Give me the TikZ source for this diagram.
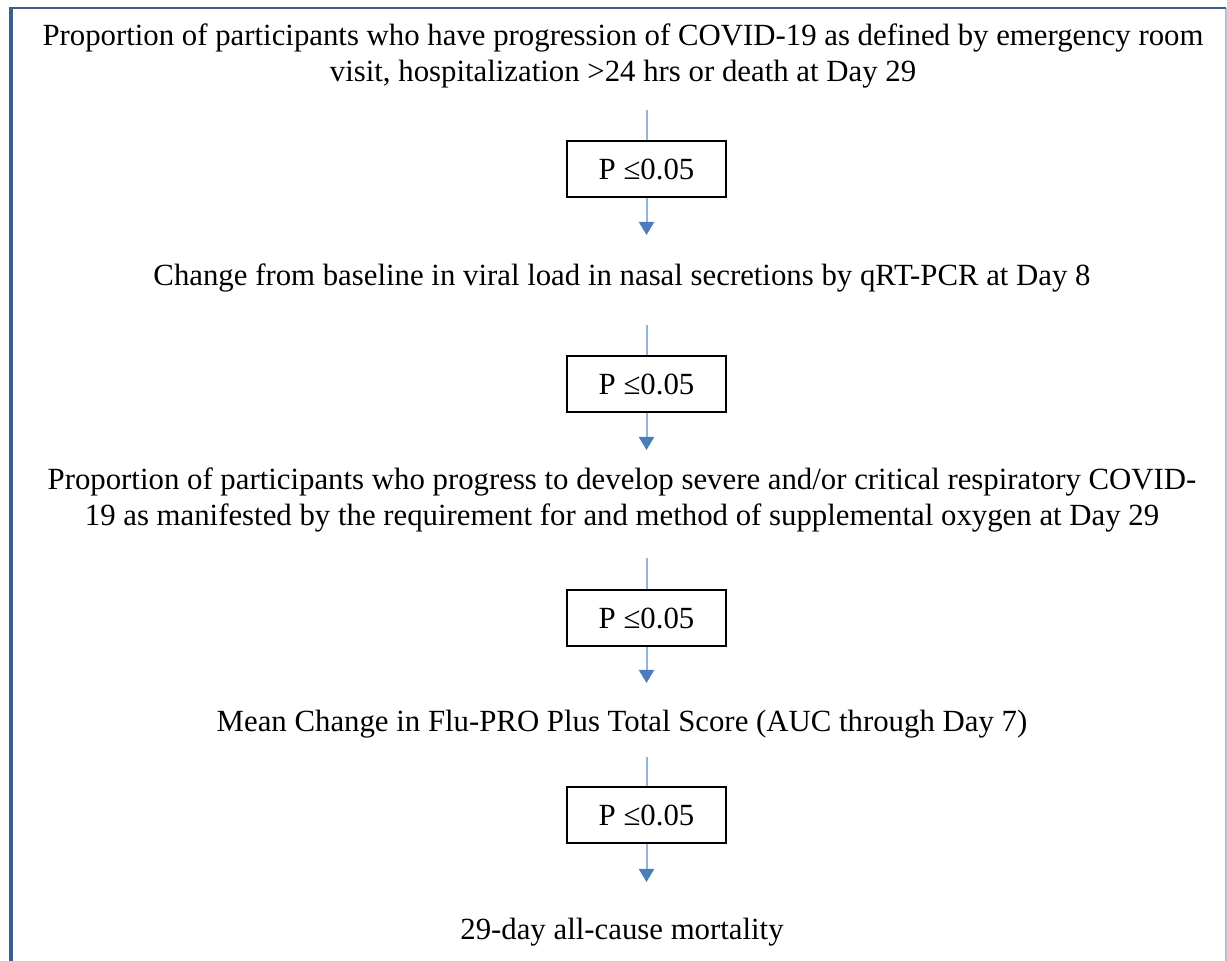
\documentclass[tikz,border=0pt]{standalone}
\usepackage{fontspec}
\setmainfont{Liberation Serif}
\usetikzlibrary{arrows.meta}

\definecolor{frameblue}{HTML}{3B5F8E}
\definecolor{framegrey}{HTML}{B8C2CE}
\definecolor{linkblue}{HTML}{92B5DE}
\definecolor{tipblue}{HTML}{4A7EBB}

\begin{document}
\begin{tikzpicture}[x=0.5pt, y=-0.5pt,
    step text/.style = {align=center, font=\fontsize{15.4}{18}\selectfont},
    pbox/.style = {draw, line width=0.8pt, minimum width=79.5pt, minimum height=28pt,
                   inner sep=0pt, font=\fontsize{15.4}{18}\selectfont},
    link/.style = {draw=linkblue, line width=1pt},
    flow/.style = {link, -{Triangle[width=7.5pt, length=6.5pt, color=tipblue]}}]
    \useasboundingbox (0,0) rectangle (1227,961);

    % frame
    \draw[framegrey, line width=0.6pt] (1226,8) -- (1226,961);
    \draw[frameblue, line width=1.2pt] (11,8) -- (1226,8);
    \draw[frameblue, line width=2pt] (11,7) -- (11,961);

    % outcomes
    \node[step text] (t1) at (623,56) {Proportion of participants who have progression of COVID-19 as defined by emergency room\\visit, hospitalization >24 hrs or death at Day 29};
    \node[step text] (t2) at (622,278) {Change from baseline in viral load in nasal secretions by qRT-PCR at Day 8};
    \node[step text] (t3) at (622,500) {Proportion of participants who progress to develop severe and/or critical respiratory COVID-\\19 as manifested by the requirement for and method of supplemental oxygen at Day 29};
    \node[step text] (t4) at (622,724) {Mean Change in Flu-PRO Plus Total Score (AUC through Day 7)};
    \node[step text] (t5) at (622,932) {29-day all-cause mortality};

    % tests
    \node[pbox] (b1) at (646.5,169) {P ≤0.05};
    \node[pbox] (b2) at (646.5,384) {P ≤0.05};
    \node[pbox] (b3) at (646.5,618) {P ≤0.05};
    \node[pbox] (b4) at (646.5,815) {P ≤0.05};

    \coordinate (s1) at (646.5,110);
    \coordinate (s2) at (646.5,325);
    \coordinate (s3) at (646.5,558);
    \coordinate (s4) at (646.5,757);
    \coordinate (e1) at (646.5,235);
    \coordinate (e2) at (646.5,450);
    \coordinate (e3) at (646.5,683);
    \coordinate (e4) at (646.5,882);

    \draw[link] (s1) -- (b1);
    \draw[flow] (b1) -- (e1);
    \draw[link] (s2) -- (b2);
    \draw[flow] (b2) -- (e2);
    \draw[link] (s3) -- (b3);
    \draw[flow] (b3) -- (e3);
    \draw[link] (s4) -- (b4);
    \draw[flow] (b4) -- (e4);

\end{tikzpicture}
\end{document}
